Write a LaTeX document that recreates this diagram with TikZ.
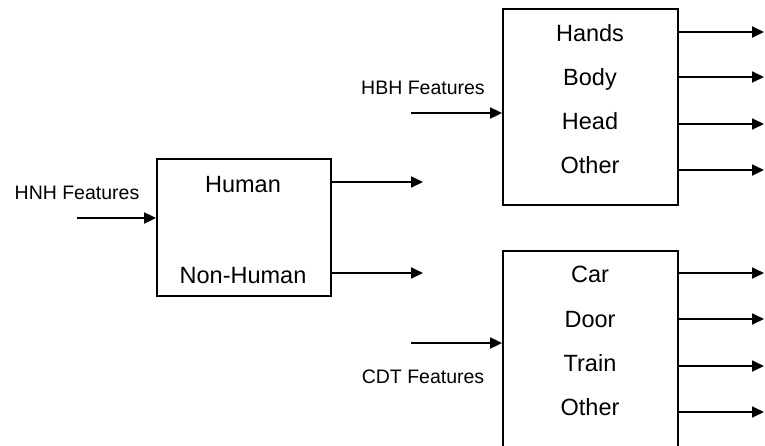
\documentclass[tikz,border=0pt]{standalone}
\usepackage{fontspec}
\setmainfont{Liberation Sans}
\usetikzlibrary{arrows.meta}
\begin{document}
\begin{tikzpicture}[x=1pt,y=-1pt,
  box/.style={draw, line width=1.8pt, rectangle, inner sep=0pt},
  big/.style={font=\fontsize{23.5}{26}\selectfont, anchor=base, inner sep=0pt},
  small/.style={font=\fontsize{19.5}{22}\selectfont, anchor=base, inner sep=0pt},
  arr/.style={line width=1.8pt, -{Triangle[length=12pt,width=11pt]}}]
\clip (0,0) rectangle (765,445);
% boxes
\node[box, minimum width=174pt, minimum height=137pt] (hnhbox) at (244,227.5) {};
\node[box, minimum width=175pt, minimum height=196pt] (hbhbox) at (590.5,107) {};
\node[box, minimum width=175pt, minimum height=230pt] (cdtbox) at (590.5,366) {};
% texts
\node[big] (human) at (243,192) {Human};
\node[big] (nonhuman) at (243,283) {Non-Human};
\node[small] (hnhlabel) at (77,199) {HNH Features};
\node[small] (hbhlabel) at (423,94) {HBH Features};
\node[small] (cdtlabel) at (423,383) {CDT Features};
\node[big] (hands) at (590,41) {Hands};
\node[big] (body) at (590,85) {Body};
\node[big] (head) at (590,129) {Head};
\node[big] (other1) at (590,173) {Other};
\node[big] (car) at (590,282) {Car};
\node[big] (door) at (590,327) {Door};
\node[big] (train) at (590,371) {Train};
\node[big] (other2) at (590,415) {Other};
% free ends
\coordinate (hnhin) at (77,218);
\coordinate (hout) at (423,182);
\coordinate (nhout) at (423,273);
\coordinate (hbhin) at (411,113);
\coordinate (cdtin) at (411,343);
\coordinate (o1) at (764,32);
\coordinate (o2) at (764,77);
\coordinate (o3) at (764,124);
\coordinate (o4) at (764,170);
\coordinate (o5) at (764,273);
\coordinate (o6) at (764,319);
\coordinate (o7) at (764,366);
\coordinate (o8) at (764,412);
% connectors
\draw[arr] (hnhin) -- (hnhbox.west |- hnhin);
\draw[arr] (hnhbox.east |- hout) -- (hout);
\draw[arr] (hnhbox.east |- nhout) -- (nhout);
\draw[arr] (hbhin) -- (hbhbox.west |- hbhin);
\draw[arr] (cdtin) -- (cdtbox.west |- cdtin);
\foreach \o in {o1,o2,o3,o4}{\draw[arr] (hbhbox.east |- \o) -- (\o);}
\foreach \o in {o5,o6,o7,o8}{\draw[arr] (cdtbox.east |- \o) -- (\o);}
\end{tikzpicture}
\end{document}
